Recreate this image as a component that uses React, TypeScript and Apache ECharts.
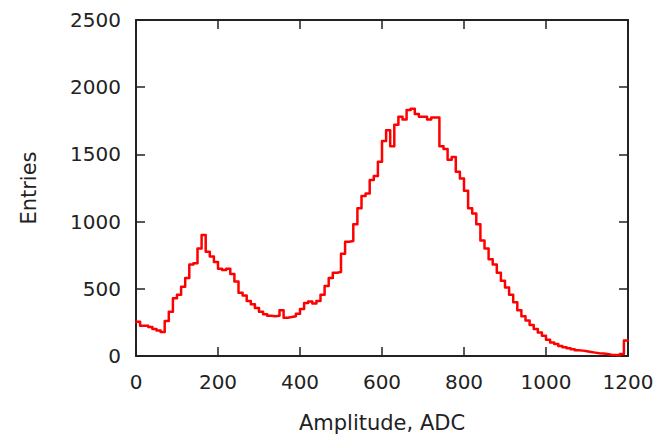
import React, { useEffect, useRef } from "react";
import * as echarts from "echarts";

// Histogram: bin width 10 ADC, 0..1200
const BIN_WIDTH = 10;
const X_MIN = 0;
const X_MAX = 1200;
const counts: number[] = [
  255, 225, 225, 215, 200, 190, 178, 260, 330, 430,
  455, 515, 580, 680, 690, 800, 900, 775, 740, 700,
  650, 640, 650, 610, 555, 470, 450, 410, 385, 357,
  330, 310, 300, 295, 300, 340, 285, 290, 295, 315,
  350, 395, 405, 390, 410, 455, 520, 580, 620, 625,
  760, 850, 855, 980, 1100, 1190, 1210, 1310, 1340, 1445,
  1600, 1680, 1560, 1720, 1780, 1760, 1830, 1840, 1800, 1780,
  1780, 1760, 1775, 1775, 1560, 1540, 1460, 1480, 1370, 1320,
  1230, 1100, 1060, 980, 860, 800, 720, 680, 620, 560,
  510, 455, 400, 340, 295, 265, 230, 200, 175, 150,
  120, 100, 90, 75, 65, 58, 50, 42, 40, 35,
  30, 25, 20, 18, 15, 10, 8, 5, 15, 115,
];
const xTicks = [0, 200, 400, 600, 800, 1000, 1200];
const yTicks = [0, 500, 1000, 1500, 2000, 2500];
const X_TITLE = "Amplitude, ADC";
const Y_TITLE = "Entries";

export default function App() {
  const ref = useRef<HTMLDivElement>(null);
  useEffect(() => {
    if (!ref.current) return;
    const chart = echarts.init(ref.current, undefined, { renderer: "svg" });
    const pts: [number, number][] = counts.map((c, i) => [X_MIN + i * BIN_WIDTH, c]);
    pts.push([X_MAX, counts[counts.length - 1]]);
    const font = "DejaVu Sans";
    const axisColor = "#222";
    const fmt = (v: number) => String(v);
    const tickCommon = {
      axisLine: { show: true, onZero: false, lineStyle: { color: axisColor, width: 2 } },
      axisTick: { show: true, inside: true, length: 9, lineStyle: { color: axisColor, width: 1.5 } },
      splitLine: { show: false },
    };
    chart.setOption({
      animation: false,
      backgroundColor: "#fff",
      textStyle: { fontFamily: font },
      grid: { left: 136, right: 32, top: 20, bottom: 83, containLabel: false },
      xAxis: [
        {
          type: "value",
          min: xTicks[0],
          max: xTicks[xTicks.length - 1],
          interval: 200,
          position: "bottom",
          ...tickCommon,
          axisLabel: { color: axisColor, fontSize: 20, fontFamily: font, margin: 16, formatter: fmt },
          name: X_TITLE,
          nameLocation: "middle",
          nameGap: 56,
          nameTextStyle: { color: axisColor, fontSize: 21, fontFamily: font },
        },
        {
          type: "value",
          min: xTicks[0],
          max: xTicks[xTicks.length - 1],
          interval: 200,
          position: "top",
          ...tickCommon,
          axisLabel: { show: false },
        },
      ],
      yAxis: [
        {
          type: "value",
          min: yTicks[0],
          max: yTicks[yTicks.length - 1],
          interval: 500,
          position: "left",
          ...tickCommon,
          axisLabel: { color: axisColor, fontSize: 20, fontFamily: font, margin: 15, formatter: fmt },
          name: Y_TITLE,
          nameLocation: "middle",
          nameGap: 97,
          nameTextStyle: { color: axisColor, fontSize: 21, fontFamily: font },
        },
        {
          type: "value",
          min: yTicks[0],
          max: yTicks[yTicks.length - 1],
          interval: 500,
          position: "right",
          ...tickCommon,
          axisLabel: { show: false },
        },
      ],
      series: [
        {
          type: "line",
          step: "end",
          data: pts,
          symbol: "none",
          lineStyle: { color: "#ff0000", width: 2.5, join: "round", cap: "round" },
          xAxisIndex: 0,
          yAxisIndex: 0,
          clip: true,
        },
      ],
    });
    return () => chart.dispose();
  }, []);
  return <div ref={ref} style={{ width: 660, height: 439, position: "absolute", left: 0, top: 0 }} />;
}
